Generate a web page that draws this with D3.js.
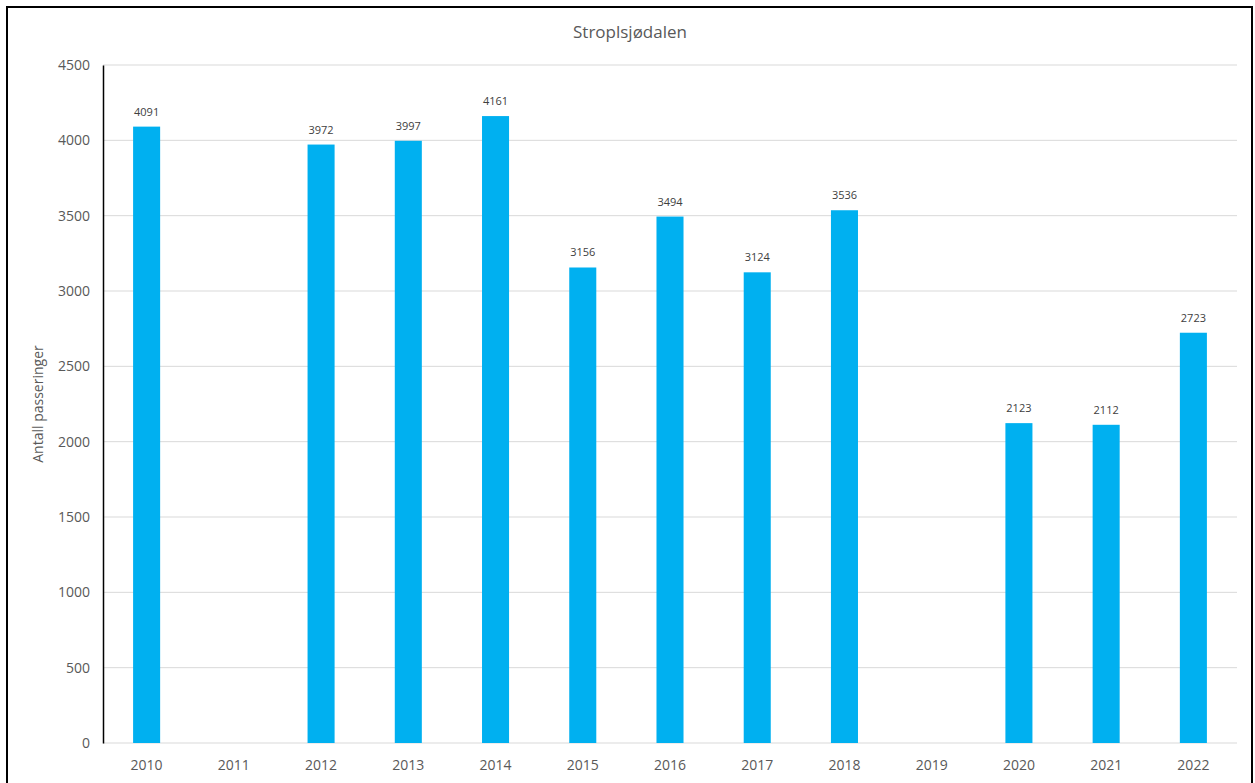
<!DOCTYPE html>
<html>
<head>
<meta charset="utf-8">
<script src="https://cdn.jsdelivr.net/npm/d3@7"></script>
<style>
  body { margin: 0; background: #fff; }
  svg { display: block; font-family: "Open Sans", sans-serif; }
</style>
</head>
<body>
<div id="chart"></div>
<script>
// chart data
var years = ["2010", "2011", "2012", "2013", "2014", "2015", "2016", "2017", "2018", "2019", "2020", "2021", "2022"]
var passes = [4091, null, 3972, 3997, 4161, 3156, 3494, 3124, 3536, null, 2123, 2112, 2723]
var yTicks = [0, 500, 1000, 1500, 2000, 2500, 3000, 3500, 4000, 4500]

var W = 1255, H = 783
var margin = {top: 65, right: 18, bottom: 40, left: 103}
var width = 1237 - margin.left
var height = 743 - margin.top

var svg = d3.select("#chart")
  .append("svg")
  .attr("width", W)
  .attr("height", H)

// outer frame (bottom edge falls outside the picture)
svg.append("rect")
  .attr("x", 7).attr("y", 7)
  .attr("width", 1245).attr("height", 800)
  .attr("fill", "none")
  .attr("stroke", "#000")
  .attr("stroke-width", 2)

svg.append("text")
  .attr("x", 630).attr("y", 38)
  .attr("text-anchor", "middle")
  .style("font-size", "17px")
  .style("fill", "#595959")
  .text("Stroplsjødalen")

var g = svg.append("g")
  .attr("transform", "translate(" + margin.left + "," + margin.top + ")")

var x = d3.scaleBand()
  .domain(years)
  .range([0, width])
  .paddingInner(0.69)
  .paddingOuter(0.345)

var y = d3.scaleLinear()
  .domain([0, 4500])
  .range([height, 0])

// gridlines
g.append("g")
  .selectAll("line")
  .data(yTicks)
  .join("line")
  .attr("x1", 0).attr("x2", width)
  .attr("y1", d => y(d)).attr("y2", d => y(d))
  .attr("stroke", "#d9d9d9")
  .attr("stroke-width", 1)

var yAxis = g.append("g")
  .call(d3.axisLeft(y).tickValues(yTicks).tickFormat(d3.format("d")).tickSize(0).tickPadding(13))
yAxis.select(".domain").attr("stroke", "#000").attr("stroke-width", 1.5)
yAxis.selectAll("text")
  .style("font-size", "14px")
  .style("fill", "#595959")
  .style("font-family", "'Open Sans', sans-serif")

var xAxis = g.append("g")
  .attr("transform", "translate(0," + height + ")")
  .call(d3.axisBottom(x).tickSize(0).tickPadding(17))
xAxis.select(".domain").remove()
xAxis.selectAll("text")
  .style("font-size", "14px")
  .style("fill", "#595959")
  .style("font-family", "'Open Sans', sans-serif")

var data = years.map(function(d, i) { return {year: d, value: passes[i]} })
  .filter(d => d.value != null)

g.selectAll(".bar")
  .data(data)
  .join("rect")
  .attr("class", "bar")
  .attr("x", d => x(d.year))
  .attr("width", x.bandwidth())
  .attr("y", d => y(d.value))
  .attr("height", d => height - y(d.value))
  .attr("fill", "#00b0f0")

g.selectAll(".label")
  .data(data)
  .join("text")
  .attr("class", "label")
  .attr("x", d => x(d.year) + x.bandwidth() / 2)
  .attr("y", d => y(d.value) - 11)
  .attr("text-anchor", "middle")
  .style("font-size", "11px")
  .style("fill", "#404040")
  .text(d => d.value)

svg.append("text")
  .attr("transform", "translate(43,404) rotate(-90)")
  .attr("text-anchor", "middle")
  .style("font-size", "14px")
  .style("fill", "#595959")
  .text("Antall passeringer")
</script>
</body>
</html>
